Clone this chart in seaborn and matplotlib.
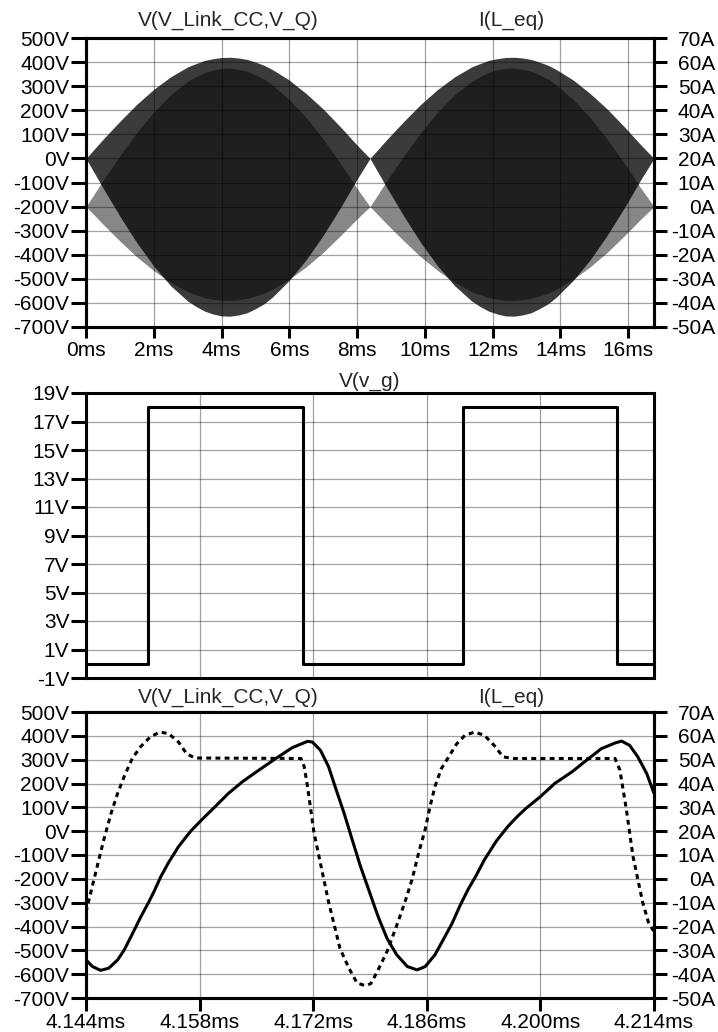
import matplotlib
matplotlib.use("Agg")
import matplotlib.pyplot as plt
import seaborn as sns

# ---- top panel: envelope of the switched waveforms (ms / V / A)
t_env = [0, 0.5, 1, 1.5, 2, 2.5, 3, 3.25, 3.5, 3.75, 4, 4.25, 4.5, 4.75, 5, 5.25, 5.5,
         6, 6.5, 7, 7.5, 8, 8.38,
         8.88, 9.38, 9.88, 10.38, 10.88, 11.38, 11.63, 11.88, 12.13, 12.38, 12.63, 12.88,
         13.13, 13.38, 13.63, 13.88, 14.38, 14.88, 15.38, 15.88, 16.38, 16.76]
v_hi = [0, 79, 154, 225, 287, 339, 380, 394, 407, 414, 419, 420, 417, 411, 400, 387, 369,
        325, 269, 205, 132, 55, 0,
        79, 154, 225, 287, 339, 380, 394, 407, 414, 419, 420, 417, 411, 400, 387, 369,
        325, 269, 205, 132, 55, 0]
v_lo = [0, -122, -240, -350, -447, -529, -592, -615, -634, -646, -654, -655, -650, -641, -624, -604, -576,
        -506, -420, -319, -206, -86, 0,
        -122, -240, -350, -447, -529, -592, -615, -634, -646, -654, -655, -650, -641, -624, -604, -576,
        -506, -420, -319, -206, -86, 0]
i_hi = [0, 10.8, 21.1, 30.8, 39.3, 46.5, 52.0, 54.0, 55.7, 56.7, 57.4, 57.5, 57.0, 56.2, 54.7, 53.0, 50.5,
        44.4, 36.9, 28.0, 18.1, 7.5, 0,
        10.8, 21.1, 30.8, 39.3, 46.5, 52.0, 54.0, 55.7, 56.7, 57.4, 57.5, 57.0, 56.2, 54.7, 53.0, 50.5,
        44.4, 36.9, 28.0, 18.1, 7.5, 0]
i_lo = [0, -7.3, -14.3, -20.9, -26.6, -31.5, -35.3, -36.6, -37.8, -38.5, -38.9, -39.0, -38.7, -38.1, -37.1, -36.0, -34.3,
        -30.1, -25.0, -19.0, -12.2, -5.1, 0,
        -7.3, -14.3, -20.9, -26.6, -31.5, -35.3, -36.6, -37.8, -38.5, -38.9, -39.0, -38.7, -38.1, -37.1, -36.0, -34.3,
        -30.1, -25.0, -19.0, -12.2, -5.1, 0]

# ---- middle panel: gate signal (steps)
t_gate = [4.144, 4.1516, 4.1707, 4.1904, 4.2094, 4.214]
v_gate = [0, 18, 0, 18, 0, 0]

# ---- bottom panel: zoom on two switching periods
t_v = [4.1440, 4.1446, 4.1454, 4.1462, 4.1471, 4.1479, 4.1487, 4.1497, 4.1507, 4.1519,
       4.1531, 4.1542, 4.1554, 4.1564, 4.1574, 4.1705, 4.1709, 4.1713, 4.1717, 4.1721,
       4.1727, 4.1733, 4.1739, 4.1745, 4.1753, 4.1764, 4.1774, 4.1784, 4.1791, 4.1799,
       4.1811, 4.1823, 4.1833, 4.1842, 4.1850, 4.1858, 4.1864, 4.1870, 4.1878, 4.1887,
       4.1897, 4.1907, 4.1919, 4.1931, 4.1943, 4.1954, 4.1966, 4.2092, 4.2098, 4.2102,
       4.2106, 4.2110, 4.2114, 4.2120, 4.2126, 4.2133, 4.2140]
v_link = [-340, -256, -145, -35, 76, 159, 229, 305, 353, 395,
          416, 409, 374, 325, 307, 305, 270, 187, 90, -7,
          -104, -201, -298, -381, -492, -575, -637, -648, -640, -589,
          -505, -395, -298, -201, -90, 7, 104, 187, 263, 312,
          367, 402, 416, 402, 360, 312, 305, 305, 256, 173,
          90, -7, -104, -201, -298, -381, -422]

t_i = [4.1440, 4.1448, 4.1458, 4.1468, 4.1479, 4.1487, 4.1497, 4.1507, 4.1518, 4.1524,
       4.1532, 4.1542, 4.1554, 4.1569, 4.1583, 4.1601, 4.1615, 4.1633, 4.1653, 4.1674,
       4.1694, 4.1713, 4.1719, 4.1729, 4.1739, 4.1747, 4.1758, 4.1768, 4.1778, 4.1788,
       4.1796, 4.1801, 4.1811, 4.1823, 4.1836, 4.1848, 4.1858, 4.1870, 4.1880, 4.1891,
       4.1901, 4.1911, 4.1921, 4.1931, 4.1946, 4.1960, 4.1972, 4.1982, 4.2000, 4.2018,
       4.2039, 4.2057, 4.2075, 4.2092, 4.2100, 4.2110, 4.2120, 4.2131, 4.2140]
i_leq = [-34.0, -36.8, -38.4, -37.5, -34.0, -29.9, -23.2, -16.3, -9.3, -5.2,
         0.8, 7.0, 13.5, 20.0, 24.9, 30.9, 35.7, 40.8, 45.6, 50.5,
         55.0, 57.7, 57.4, 53.9, 47.0, 38.7, 27.6, 16.5, 5.5, -4.2,
         -12.0, -16.7, -25.0, -31.9, -36.8, -38.2, -36.8, -31.9, -25.7, -18.8,
         -11.2, -4.4, 1.5, 8.0, 16.0, 22.0, 26.3, 29.5, 34.5, 40.1,
         44.9, 49.8, 54.6, 57.0, 57.8, 56.0, 51.2, 44.2, 35.9]

# tick labels
top_xticks = [0, 2, 4, 6, 8, 10, 12, 14, 16]
zoom_xticks = [4.144, 4.158, 4.172, 4.186, 4.200, 4.214]
v_ticks = [500, 400, 300, 200, 100, 0, -100, -200, -300, -400, -500, -600, -700]
a_ticks = [70, 60, 50, 40, 30, 20, 10, 0, -10, -20, -30, -40, -50]
g_ticks = [19, 17, 15, 13, 11, 9, 7, 5, 3, 1, -1]

sns.set_theme(style="ticks")
plt.rcParams["font.family"] = ["Liberation Sans", "DejaVu Sans"]
FS = 15
LW = 2.2


def style(ax, xlen=8):
    for s in ax.spines.values():
        s.set_visible(True)
        s.set_linewidth(LW)
        s.set_color("black")
    ax.tick_params(axis="y", direction="out", length=11, width=LW, pad=1,
                   labelsize=FS, colors="black")
    ax.tick_params(axis="x", direction="out", length=xlen, width=LW, pad=2,
                   labelsize=FS, colors="black")
    ax.grid(True, color="black", alpha=0.37, lw=0.9)
    ax.set_xlabel("")
    ax.set_ylabel("")


def right_axis(ax):
    ax2 = ax.twinx()
    ax2.set_ylim(-50, 70)
    ax2.set_yticks(a_ticks)
    ax2.set_yticklabels([f"{v}A" for v in a_ticks])
    ax2.tick_params(axis="y", direction="out", length=9, width=LW, pad=35,
                    labelsize=FS, colors="black")
    plt.setp(ax2.get_yticklabels(), ha="right")
    ax2.grid(False)
    for s in ax2.spines.values():
        s.set_linewidth(LW)
        s.set_color("black")
    return ax2


fig = plt.figure(figsize=(7.18, 10.32), dpi=100)
L, W = 86 / 718, (654 - 86) / 718
ax_top = fig.add_axes([L, 1 - 327 / 1032, W, 289 / 1032])
ax_mid = fig.add_axes([L, 1 - 678 / 1032, W, 285 / 1032])
ax_bot = fig.add_axes([L, 1 - 998 / 1032, W, 286 / 1032])

# top panel
ax_top.fill_between(t_env, v_lo, v_hi, color="black", alpha=0.77, lw=0)
ax_top.set_xlim(0, 16.76)
ax_top.set_ylim(-700, 500)
ax_top.set_xticks(top_xticks)
ax_top.set_xticklabels([f"{v}ms" for v in top_xticks])
ax_top.set_yticks(v_ticks)
ax_top.set_yticklabels([f"{v}V" for v in v_ticks])
style(ax_top)
ax_top2 = right_axis(ax_top)
ax_top2.fill_between(t_env, i_lo, i_hi, color="black", alpha=0.47, lw=0)

# middle panel
sns.lineplot(x=t_gate, y=v_gate, ax=ax_mid, color="black", lw=LW,
             drawstyle="steps-post", estimator=None, sort=False)
ax_mid.set_xlim(4.144, 4.214)
ax_mid.set_ylim(-1, 19)
ax_mid.set_xticks(zoom_xticks)
ax_mid.set_yticks(g_ticks)
ax_mid.set_yticklabels([f"{v}V" for v in g_ticks])
style(ax_mid)
ax_mid.tick_params(axis="x", length=0, labelbottom=False)

# bottom panel
sns.lineplot(x=t_v, y=v_link, ax=ax_bot, color="black", lw=LW,
             linestyle=(0, (1.6, 1.4)), estimator=None, sort=False)
ax_bot.set_xlim(4.144, 4.214)
ax_bot.set_ylim(-700, 500)
ax_bot.set_xticks(zoom_xticks)
ax_bot.set_xticklabels([f"{v:.3f}ms" for v in zoom_xticks])
ax_bot.set_yticks(v_ticks)
ax_bot.set_yticklabels([f"{v}V" for v in v_ticks])
style(ax_bot, xlen=9)
ax_bot2 = right_axis(ax_bot)
sns.lineplot(x=t_i, y=i_leq, ax=ax_bot2, color="black", lw=LW,
             estimator=None, sort=False)
ax_bot2.set_ylabel("")
ax_bot2.set_ylim(-50, 70)

# trace names
fig.text(228 / 718, 1 - 20 / 1032, "V(V_Link_CC,V_Q)", ha="center", va="center", fontsize=FS)
fig.text(511 / 718, 1 - 20 / 1032, "I(L_eq)", ha="center", va="center", fontsize=FS)
fig.text(370 / 718, 1 - 381 / 1032, "V(v_g)", ha="center", va="center", fontsize=FS)
fig.text(228 / 718, 1 - 697 / 1032, "V(V_Link_CC,V_Q)", ha="center", va="center", fontsize=FS)
fig.text(511 / 718, 1 - 697 / 1032, "I(L_eq)", ha="center", va="center", fontsize=FS)

fig.savefig("out.png", dpi=100)
